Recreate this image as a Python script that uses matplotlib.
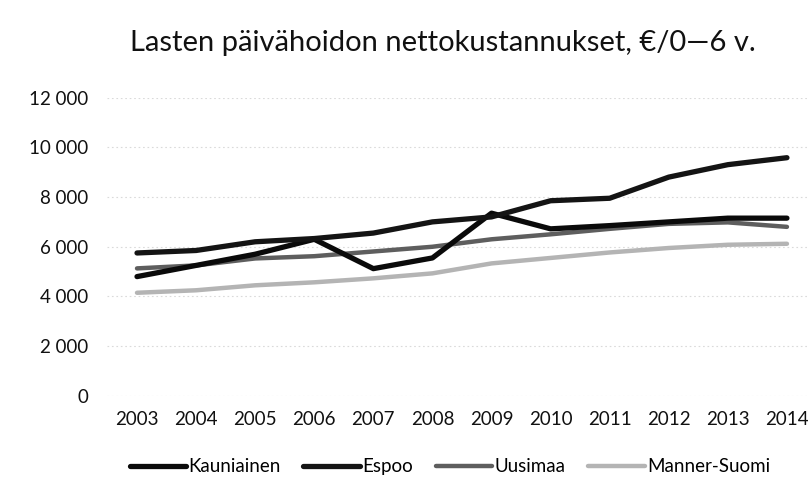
import matplotlib
matplotlib.use("Agg")
import matplotlib.pyplot as plt
from matplotlib.ticker import FuncFormatter

years = ["2003", "2004", "2005", "2006", "2007", "2008", "2009", "2010", "2011", "2012", "2013", "2014"]
kauniainen = [4800, 5250, 5700, 6300, 5120, 5550, 7350, 6720, 6850, 7000, 7150, 7150]
espoo = [5750, 5850, 6200, 6330, 6550, 7000, 7200, 7850, 7950, 8800, 9300, 9580]
uusimaa = [5130, 5250, 5530, 5620, 5810, 6000, 6300, 6500, 6720, 6920, 6980, 6800]
manner_suomi = [4150, 4250, 4450, 4570, 4730, 4930, 5330, 5550, 5770, 5950, 6080, 6120]
yticks = [0, 2000, 4000, 6000, 8000, 10000, 12000]
title = "Lasten päivähoidon nettokustannukset, €/0—6 v."

plt.rcParams['font.family'] = ['Lato', 'DejaVu Sans']

fig = plt.figure(figsize=(8.08, 4.94), dpi=100)
ax = fig.add_axes([0.133, 0.1984, 0.8775, 0.6042])

x = list(range(len(years)))
l4, = ax.plot(x, manner_suomi, color='#b4b4b4', lw=3.2, solid_capstyle='round', solid_joinstyle='round', label='Manner-Suomi', zorder=3)
l3, = ax.plot(x, uusimaa, color='#5e5e5e', lw=3.2, solid_capstyle='round', solid_joinstyle='round', label='Uusimaa', zorder=4)
l1, = ax.plot(x, kauniainen, color='#0a0a0a', lw=3.8, solid_capstyle='round', solid_joinstyle='round', label='Kauniainen', zorder=5)
l2, = ax.plot(x, espoo, color='#141414', lw=3.8, solid_capstyle='round', solid_joinstyle='round', label='Espoo', zorder=6)

ax.set_xlim(-0.5, len(years) - 0.5)
ax.set_ylim(0, 12000)
ax.set_xticks(x)
ax.set_xticklabels(years)
ax.set_yticks(yticks)
ax.yaxis.set_major_formatter(FuncFormatter(lambda v, p: f"{int(v):,}".replace(",", " ")))
ax.tick_params(axis='both', length=0, labelsize=13.5, colors='#111111')
ax.tick_params(axis='y', pad=14)
ax.tick_params(axis='x', pad=11)
for s in ax.spines.values():
    s.set_visible(False)
ax.grid(axis='y', color='#dadada', lw=0.8, linestyle=(0, (1.5, 2.5)))
ax.set_axisbelow(True)

fig.text(0.548, 0.913, title, ha='center', va='center', fontsize=21, color='#111111')

fig.legend(handles=[l1, l2, l3, l4], loc='center', bbox_to_anchor=(0.557, 0.055), ncol=4,
           frameon=False, fontsize=13.5, handlelength=3.0, handletextpad=0.15, columnspacing=1.2)

fig.savefig("out.png", dpi=100)
